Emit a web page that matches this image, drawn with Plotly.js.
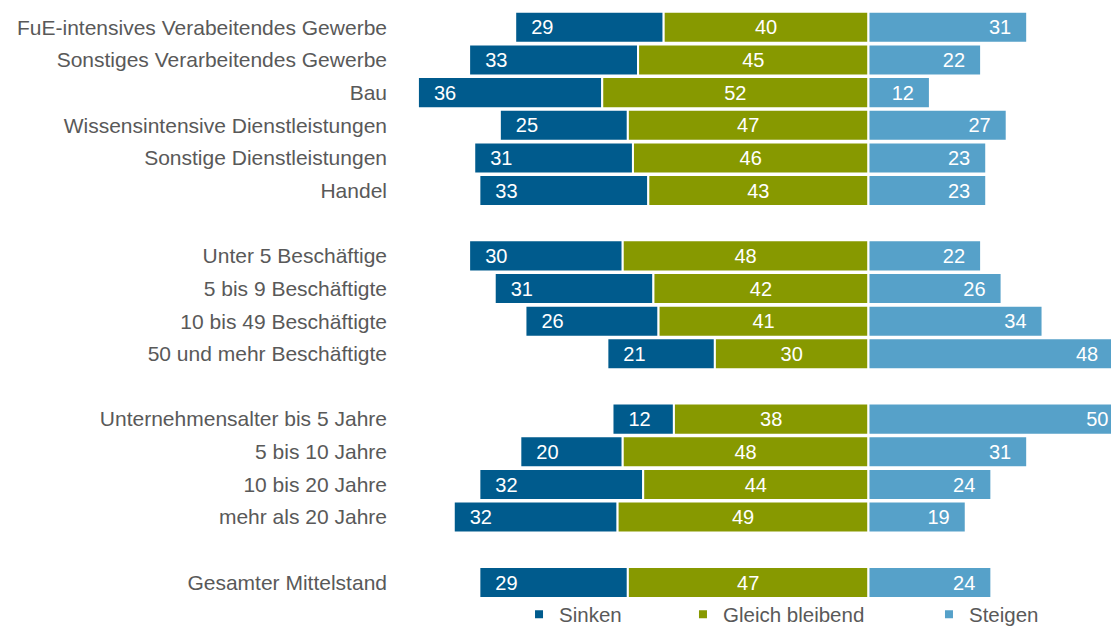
<!DOCTYPE html>
<html>
<head>
<meta charset="utf-8">
<script src="https://cdn.plot.ly/plotly-3.0.1.min.js"></script>
<style>html,body{margin:0;padding:0;background:#fff;}#chart{width:1111px;height:628px;}</style>
</head>
<body>
<div id="chart"></div>
<script>
// Categories (blank entries are spacer rows between groups)
const categories = [
  "FuE-intensives Verabeitendes Gewerbe",
  "Sonstiges Verarbeitendes Gewerbe",
  "Bau",
  "Wissensintensive Dienstleistungen",
  "Sonstige Dienstleistungen",
  "Handel",
  " ",
  "Unter 5 Beschäftige",
  "5 bis 9 Beschäftigte",
  "10 bis 49 Beschäftigte",
  "50 und mehr Beschäftigte",
  "  ",
  "Unternehmensalter bis 5 Jahre",
  "5 bis 10 Jahre",
  "10 bis 20 Jahre",
  "mehr als 20 Jahre",
  "   ",
  "Gesamter Mittelstand"
];
const sinken  = [29, 33, 36, 25, 31, 33, null, 30, 31, 26, 21, null, 12, 20, 32, 32, null, 29];
const gleich  = [40, 45, 52, 47, 46, 43, null, 48, 42, 41, 30, null, 38, 48, 44, 49, null, 47];
const steigen = [31, 22, 12, 27, 23, 23, null, 22, 26, 34, 48, null, 50, 31, 24, 19, null, 24];
const seriesNames = ["Sinken", "Gleich bleibend", "Steigen"];

const colors = {sinken: "#005B8D", gleich: "#879900", steigen: "#56A1C9"};
const textGray = "#595959";
const FONT = "'Liberation Sans', Arial, sans-serif";
const labelInset = 5.3; // label offset from outer bar end, in axis units

const gleichBase = gleich.map(v => v == null ? null : -v);
const sinkenBase = sinken.map((v, i) => v == null ? null : -(v + gleich[i]));
const sinkenLabelX = sinken.map((v, i) => v == null ? null : -(v + gleich[i]) + labelInset);
const steigenLabelX = steigen.map(v => v == null ? null : v - labelInset);
const toText = arr => arr.map(v => v == null ? "" : String(v));

const barCommon = {
  type: "bar", orientation: "h", y: categories,
  hoverinfo: "skip", showlegend: false
};
const labelFont = {color: "#ffffff", size: 20, family: FONT};
const labelCommon = {
  type: "scatter", mode: "text", y: categories, yaxis: "y2",
  textposition: "middle center", cliponaxis: false,
  textfont: labelFont, hoverinfo: "skip", showlegend: false
};
const traces = [
  Object.assign({}, barCommon, {
    name: seriesNames[0], x: sinken, base: sinkenBase,
    marker: {color: colors.sinken, line: {color: "#ffffff", width: 2}}
  }),
  Object.assign({}, barCommon, {
    name: seriesNames[1], x: gleich, base: gleichBase,
    marker: {color: colors.gleich, line: {color: "#ffffff", width: 2}}
  }),
  Object.assign({}, barCommon, {
    name: seriesNames[2], x: steigen, base: steigen.map(v => v == null ? null : 0),
    marker: {color: colors.steigen, line: {color: "#ffffff", width: 2}}
  }),
  Object.assign({}, labelCommon, {x: sinkenLabelX, text: toText(sinken)}),
  Object.assign({}, labelCommon, {x: gleich.map(v => v == null ? null : -v / 2), text: toText(gleich)}),
  Object.assign({}, labelCommon, {x: steigenLabelX, text: toText(steigen)}),
  // legend entries
  {type: "scatter", mode: "markers", x: [null], y: [null], name: seriesNames[0],
   marker: {symbol: "square", size: 8, color: colors.sinken}, legend: "legend", hoverinfo: "skip"},
  {type: "scatter", mode: "markers", x: [null], y: [null], name: seriesNames[1],
   marker: {symbol: "square", size: 8, color: colors.gleich}, legend: "legend2", hoverinfo: "skip"},
  {type: "scatter", mode: "markers", x: [null], y: [null], name: seriesNames[2],
   marker: {symbol: "square", size: 8, color: colors.steigen}, legend: "legend3", hoverinfo: "skip"}
];

const legendCommon = {
  orientation: "h", yref: "container", yanchor: "middle", y: 0.0215, xanchor: "left",
  font: {family: FONT, size: 20.5, color: textGray},
  bgcolor: "rgba(0,0,0,0)", borderwidth: 0
};

const yRange = [18.397, -0.5];
const textShift = 0.065; // small downward nudge of value labels (axis units)

const layout = {
  width: 1111, height: 628,
  margin: {l: 400, r: 0, t: 11, b: 0, pad: 0, autoexpand: false},
  paper_bgcolor: "#ffffff", plot_bgcolor: "#ffffff",
  barmode: "overlay", bargap: 0.05,
  font: {family: FONT, color: textGray, size: 21},
  xaxis: {range: [-91.5, 47.37], showgrid: false, zeroline: false,
          showticklabels: false, ticks: "", showline: false, fixedrange: true},
  yaxis: {type: "category", categoryorder: "array", categoryarray: categories,
          range: yRange, autorange: false, showgrid: false, zeroline: false, ticks: "",
          showline: false, ticklabelstandoff: 12,
          tickfont: {family: FONT, size: 21, color: textGray}, fixedrange: true},
  yaxis2: {type: "category", categoryorder: "array", categoryarray: categories,
          overlaying: "y", range: yRange.map(v => v - textShift), autorange: false,
          showgrid: false, zeroline: false, ticks: "", showline: false,
          showticklabels: false, fixedrange: true},
  legend:  Object.assign({}, legendCommon, {x: 0.1674}),
  legend2: Object.assign({}, legendCommon, {x: 0.3980}),
  legend3: Object.assign({}, legendCommon, {x: 0.7440}),
  showlegend: true
};

Plotly.newPlot("chart", traces, layout, {displayModeBar: false, staticPlot: true});
</script>
</body>
</html>
